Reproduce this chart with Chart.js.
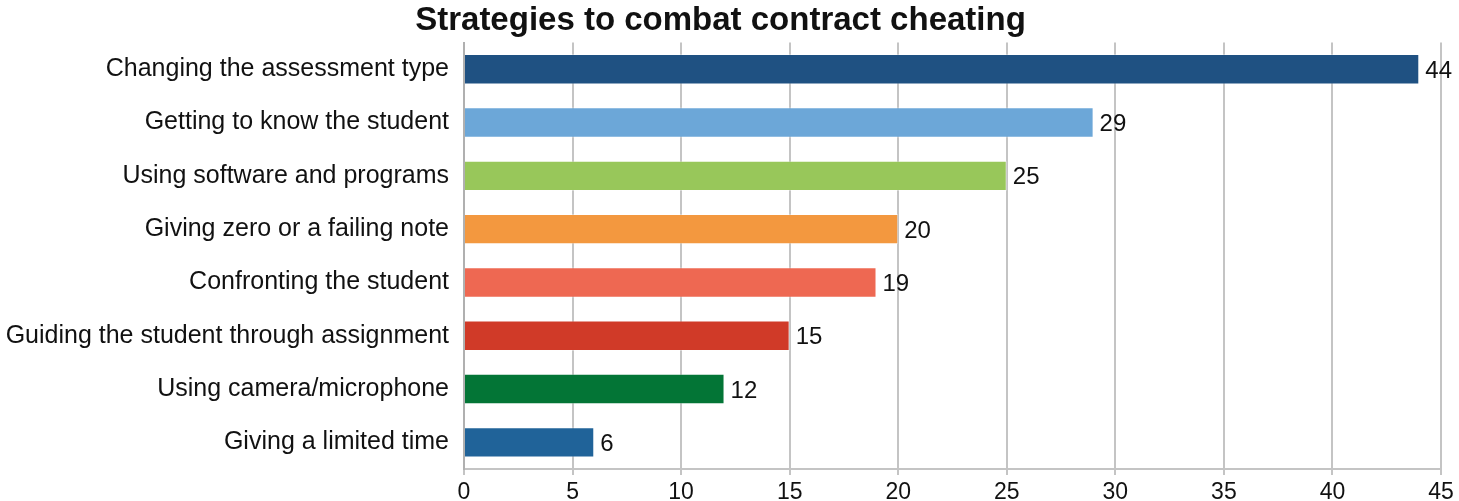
<!DOCTYPE html>
<html>
<head>
<meta charset="utf-8">
<script src="https://cdn.jsdelivr.net/npm/chart.js@4"></script>
<style>
html,body{margin:0;padding:0;background:#fff;}
#wrap{width:1459px;height:501px;position:relative;}
</style>
</head>
<body>
<div id="wrap"><canvas id="c" width="1459" height="501"></canvas></div>
<script>
const titleText = "Strategies to combat contract cheating";
const categories = [
  "Changing the assessment type",
  "Getting to know the student",
  "Using software and programs",
  "Giving zero or a failing note",
  "Confronting the student",
  "Guiding the student through assignment",
  "Using camera/microphone",
  "Giving a limited time"
];
const values = [44, 29, 25, 20, 19, 15, 12, 6];
const barColors = ["#1f5182", "#6ca7d8", "#98c75a", "#f3983f", "#ee6852", "#d03a28", "#037536", "#206399"];
const xTicks = [0, 5, 10, 15, 20, 25, 30, 35, 40, 45];

const FONT = "'Liberation Sans', Arial, Helvetica, sans-serif";

const valueLabels = {
  id: 'valueLabels',
  afterDatasetsDraw(chart) {
    const ctx = chart.ctx;
    const meta = chart.getDatasetMeta(0);
    ctx.save();
    ctx.font = "24px " + FONT;
    ctx.fillStyle = "#111";
    ctx.textAlign = "left";
    ctx.textBaseline = "middle";
    meta.data.forEach((bar, i) => {
      ctx.fillText(String(values[i]), bar.x + 6, bar.y + 2);
    });
    ctx.restore();
  }
};

new Chart(document.getElementById('c'), {
  type: 'bar',
  data: {
    labels: categories,
    datasets: [{
      data: values,
      backgroundColor: barColors,
      borderColor: "rgba(255,255,255,0.35)",
      borderWidth: 1,
      barPercentage: 0.57,
      categoryPercentage: 1.0
    }]
  },
  options: {
    indexAxis: 'y',
    responsive: false,
    devicePixelRatio: 1,
    animation: false,
    layout: { padding: { left: 0, right: 18, top: 0, bottom: 0 } },
    plugins: {
      legend: { display: false },
      tooltip: { enabled: false },
      title: {
        display: true,
        text: titleText,
        color: "#111",
        font: { family: FONT, size: 33, weight: 'bold' },
        padding: { top: 1, bottom: 2 }
      }
    },
    scales: {
      x: {
        type: 'linear',
        min: 0,
        max: 45,
        afterBuildTicks(scale) { scale.ticks = xTicks.map(v => ({ value: v })); },
        afterFit(scale) { scale.height = 32; },
        grid: { color: "#c4c4c4", lineWidth: 2, tickLength: 6, drawTicks: true },
        border: { color: "#c4c4c4", width: 2 },
        ticks: { color: "#111", font: { family: FONT, size: 23 }, padding: 4 }
      },
      y: {
        afterFit(scale) { scale.width = 464; },
        grid: { display: false, drawTicks: false },
        border: { color: "#b0b0b0", width: 2 },
        ticks: { color: "#111", font: { family: FONT, size: 25 }, padding: 15 }
      }
    }
  },
  plugins: [valueLabels]
});
</script>
</body>
</html>
